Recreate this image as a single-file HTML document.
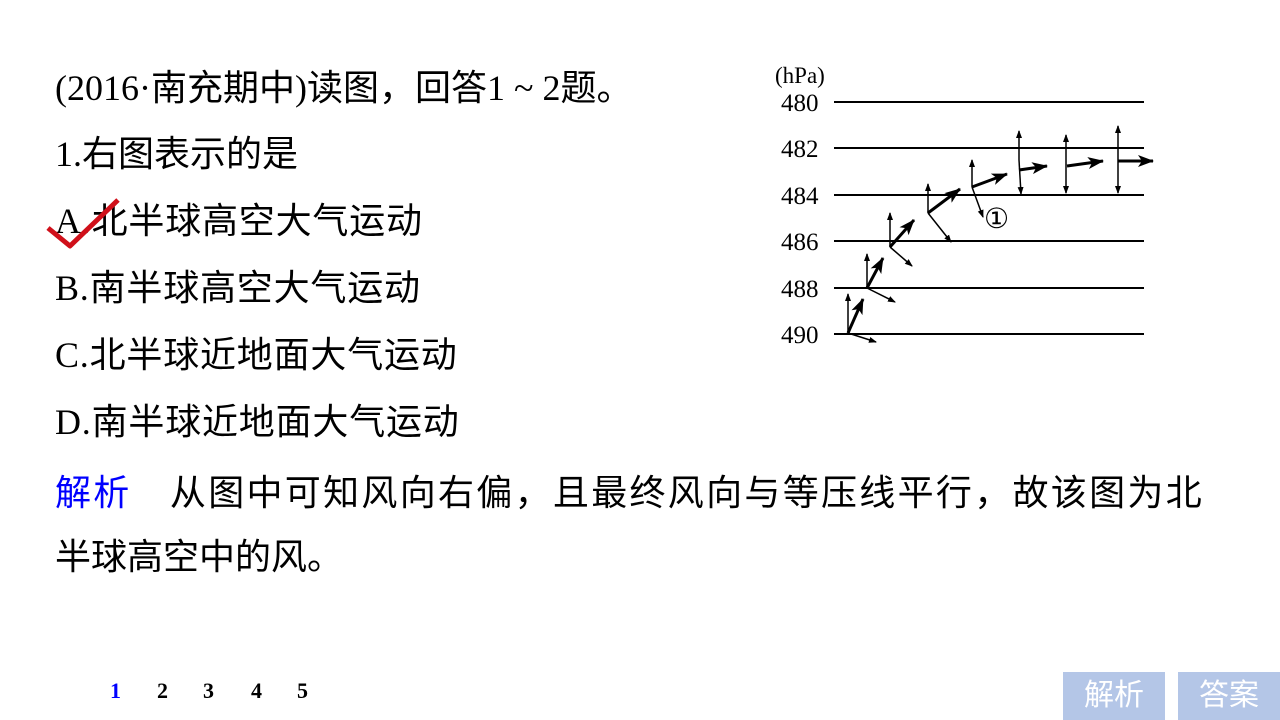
<!DOCTYPE html>
<html><head><meta charset="utf-8"><style>
body{margin:0;width:1280px;height:720px;background:#fff;position:relative;overflow:hidden;font-family:"Liberation Serif","Noto Sans CJK SC",sans-serif;color:#000}
.t{position:absolute;font-size:36px;white-space:nowrap;line-height:1}
.btn{position:absolute;top:672px;height:48px;background:#b4c6e7;color:#fff;font-family:"Liberation Sans","Noto Sans CJK SC",sans-serif;font-size:30px;text-align:center;line-height:48px}
.pg{position:absolute;top:678px;font-size:22px;font-weight:bold;font-family:"Liberation Serif",serif}
</style></head><body>
<div class="t" style="left:55px;top:70px">(2016·南充期中)读图，回答1 ~ 2题。</div>
<div class="t" style="left:55px;top:136px">1.右图表示的是</div>
<div class="t" style="left:55px;top:203px;letter-spacing:0.8px">A.北半球高空大气运动</div>
<div class="t" style="left:55px;top:270px;letter-spacing:0.8px">B.南半球高空大气运动</div>
<div class="t" style="left:55px;top:337px;letter-spacing:0.8px">C.北半球近地面大气运动</div>
<div class="t" style="left:55px;top:404px;letter-spacing:0.8px">D.南半球近地面大气运动</div>
<div class="t" style="left:55px;top:475px;letter-spacing:2.3px"><span style="color:#0000ff">解析</span>　从图中可知风向右偏，且最终风向与等压线平行，故该图为北</div>
<div class="t" style="left:55px;top:539px">半球高空中的风。</div>
<svg style="position:absolute;left:0;top:0" width="1280" height="720">
<path d="M48 228 L70 246 L118 200" stroke="#d0101a" stroke-width="5" fill="none" stroke-linejoin="round"/>
<g font-family="Liberation Serif" font-size="25">
<text x="775" y="83" font-size="23">(hPa)</text>
<text x="781" y="111">480</text><text x="781" y="157">482</text><text x="781" y="204">484</text>
<text x="781" y="250">486</text><text x="781" y="297">488</text><text x="781" y="343">490</text>
<text x="984" y="228" font-size="28">①</text>
</g>
<defs>
<marker id="a" markerWidth="8" markerHeight="8" refX="7" refY="4" orient="auto" markerUnits="userSpaceOnUse"><path d="M0 1 L8 4 L0 7 Z"/></marker>
<marker id="b" markerWidth="16" markerHeight="12" refX="15" refY="6" orient="auto" markerUnits="userSpaceOnUse"><path d="M0 0 L16 6 L0 12 L4 6 Z"/></marker>
</defs>
<g stroke="#000" stroke-width="2"><path d="M834 102H1144M834 148H1144M834 195H1144M834 241H1144M834 288H1144M834 334H1144"/></g>
<g stroke="#000" stroke-width="1.5" fill="none" marker-end="url(#a)">
<path d="M848 333V294"/><path d="M848 333L876 342"/>
<path d="M867 288V254"/><path d="M867 288L895 302"/>
<path d="M890 247V213"/><path d="M890 247L912 266"/>
<path d="M928 213V184"/><path d="M928 213L951 242"/>
<path d="M972 187V160"/><path d="M972 187L983 217"/>
<path d="M1019 160V131"/><path d="M1019 160L1021 194"/>
<path d="M1066 160V135"/><path d="M1066 160V193"/>
<path d="M1118 160V126"/><path d="M1118 160V193"/>
</g>
<g stroke="#000" stroke-width="3" fill="none" marker-end="url(#b)">
<path d="M848 333L863 299"/><path d="M867 288L883 258"/><path d="M890 247L914 220"/>
<path d="M928 213L960 189"/><path d="M972 187L1007 174"/><path d="M1019 170L1047 166"/>
<path d="M1067 166L1103 161"/><path d="M1118 161L1153 161"/>
</g>
</svg>
<div class="pg" style="left:110px;color:#0000ff">1</div>
<div class="pg" style="left:157px">2</div>
<div class="pg" style="left:203px">3</div>
<div class="pg" style="left:251px">4</div>
<div class="pg" style="left:297px">5</div>
<div class="btn" style="left:1063px;width:102px">解析</div>
<div class="btn" style="left:1178px;width:102px">答案</div>
</body></html>
